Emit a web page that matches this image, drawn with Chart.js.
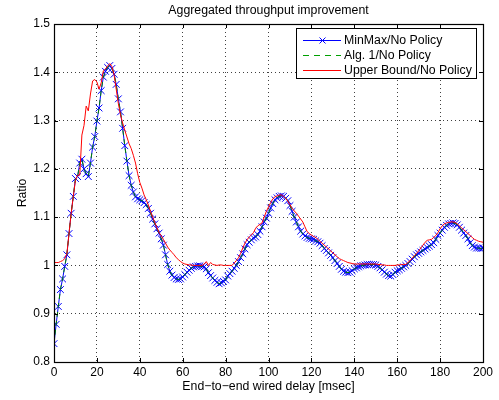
<!DOCTYPE html>
<html>
<head>
<meta charset="utf-8">
<script src="https://cdn.jsdelivr.net/npm/chart.js@4/dist/chart.umd.min.js"></script>
<style>
  html, body { margin: 0; padding: 0; background: #fff; }
  #wrap { width: 499px; height: 400px; }
</style>
</head>
<body>
<div id="wrap"><canvas id="c" width="499" height="400"></canvas></div>
<script>
const chartTitle = "Aggregated throughput improvement";
const xAxisTitle = "End\u2212to\u2212end wired delay [msec]";
const yAxisTitle = "Ratio";
const seriesNames = ["MinMax/No Policy", "Alg. 1/No Policy", "Upper Bound/No Policy"];
const xTicks = [0, 20, 40, 60, 80, 100, 120, 140, 160, 180, 200];
const yTicks = [0.8, 0.9, 1.0, 1.1, 1.2, 1.3, 1.4, 1.5];

// end-to-end wired delay [msec], 0..200 step 1
const delays = Array.from({ length: 201 }, (_, i) => i);

const minMaxRatio = [
  0.838, 0.878, 0.915, 0.950, 0.972, 0.998, 1.022, 1.066, 1.108, 1.143,
  1.180, 1.184, 1.212, 1.220, 1.200, 1.190, 1.184, 1.212, 1.245, 1.267,
  1.299, 1.326, 1.362, 1.390, 1.402, 1.410, 1.414, 1.408, 1.396, 1.375,
  1.345, 1.318, 1.284, 1.248, 1.216, 1.186, 1.166, 1.152, 1.142, 1.138,
  1.136, 1.134, 1.130, 1.126, 1.118, 1.108, 1.096, 1.086, 1.076, 1.067,
  1.055, 1.042, 1.022, 1.002, 0.988, 0.980, 0.975, 0.972, 0.971, 0.972,
  0.976, 0.981, 0.986, 0.990, 0.994, 0.997, 0.998, 0.999, 0.999, 0.998,
  0.997, 0.993, 0.985, 0.979, 0.974, 0.969, 0.965, 0.962, 0.964, 0.967,
  0.970, 0.978, 0.983, 0.988, 0.994, 1.000, 1.008, 1.016, 1.024, 1.034,
  1.043, 1.048, 1.053, 1.057, 1.059, 1.064, 1.071, 1.080, 1.090, 1.098,
  1.108, 1.119, 1.128, 1.136, 1.140, 1.143, 1.144, 1.143, 1.139, 1.134,
  1.124, 1.112, 1.100, 1.090, 1.080, 1.071, 1.065, 1.061, 1.058, 1.056,
  1.055, 1.054, 1.051, 1.049, 1.046, 1.041, 1.035, 1.031, 1.026, 1.021,
  1.016, 1.010, 1.004, 0.998, 0.992, 0.988, 0.986, 0.985, 0.986, 0.989,
  0.993, 0.995, 0.997, 0.999, 1.000, 1.001, 1.002, 1.002, 1.002, 1.002,
  1.001, 0.998, 0.995, 0.991, 0.986, 0.982, 0.979, 0.978, 0.981, 0.986,
  0.989, 0.991, 0.994, 0.997, 1.000, 1.004, 1.008, 1.013, 1.018, 1.022,
  1.025, 1.028, 1.031, 1.034, 1.037, 1.040, 1.043, 1.047, 1.054, 1.062,
  1.067, 1.073, 1.079, 1.083, 1.086, 1.087, 1.088, 1.087, 1.084, 1.079,
  1.073, 1.067, 1.062, 1.055, 1.047, 1.041, 1.038, 1.036, 1.036, 1.035,
  1.036
];

const alg1Ratio = [
  0.838, 0.878, 0.915, 0.950, 0.972, 0.998, 1.022, 1.066, 1.108, 1.143,
  1.180, 1.184, 1.212, 1.220, 1.200, 1.190, 1.184, 1.212, 1.245, 1.267,
  1.299, 1.326, 1.362, 1.390, 1.402, 1.410, 1.414, 1.408, 1.396, 1.375,
  1.345, 1.318, 1.284, 1.248, 1.216, 1.186, 1.166, 1.152, 1.142, 1.138,
  1.136, 1.134, 1.130, 1.126, 1.118, 1.108, 1.096, 1.086, 1.076, 1.067,
  1.055, 1.042, 1.022, 1.002, 0.988, 0.980, 0.975, 0.972, 0.971, 0.972,
  0.976, 0.981, 0.986, 0.990, 0.994, 0.997, 0.998, 0.999, 0.999, 0.998,
  0.997, 0.993, 0.985, 0.979, 0.974, 0.969, 0.965, 0.962, 0.964, 0.967,
  0.970, 0.978, 0.983, 0.988, 0.994, 1.000, 1.008, 1.016, 1.024, 1.034,
  1.043, 1.048, 1.053, 1.057, 1.059, 1.064, 1.071, 1.080, 1.090, 1.098,
  1.108, 1.119, 1.128, 1.136, 1.140, 1.143, 1.144, 1.143, 1.139, 1.134,
  1.124, 1.112, 1.100, 1.090, 1.080, 1.071, 1.065, 1.061, 1.058, 1.056,
  1.055, 1.054, 1.051, 1.049, 1.046, 1.041, 1.035, 1.031, 1.026, 1.021,
  1.016, 1.010, 1.004, 0.998, 0.992, 0.988, 0.986, 0.985, 0.986, 0.989,
  0.993, 0.995, 0.997, 0.999, 1.000, 1.001, 1.002, 1.002, 1.002, 1.002,
  1.001, 0.998, 0.995, 0.991, 0.986, 0.982, 0.979, 0.978, 0.981, 0.986,
  0.989, 0.991, 0.994, 0.997, 1.000, 1.004, 1.008, 1.013, 1.018, 1.022,
  1.025, 1.028, 1.031, 1.034, 1.037, 1.040, 1.043, 1.047, 1.054, 1.062,
  1.067, 1.073, 1.079, 1.083, 1.086, 1.087, 1.088, 1.087, 1.084, 1.079,
  1.073, 1.067, 1.062, 1.055, 1.047, 1.041, 1.038, 1.036, 1.036, 1.035,
  1.036
];

const upperBoundRatio = [
  1.006, 1.006, 1.006, 1.008, 1.010, 1.014, 1.024, 1.066, 1.108, 1.143,
  1.176, 1.187, 1.187, 1.270, 1.290, 1.330, 1.320, 1.355, 1.382, 1.385,
  1.380, 1.365, 1.378, 1.403, 1.407, 1.413, 1.418, 1.412, 1.395, 1.365,
  1.335, 1.312, 1.295, 1.280, 1.266, 1.252, 1.242, 1.228, 1.212, 1.190,
  1.172, 1.160, 1.146, 1.136, 1.125, 1.112, 1.100, 1.089, 1.078, 1.068,
  1.061, 1.054, 1.046, 1.038, 1.032, 1.027, 1.022, 1.016, 1.012, 1.008,
  1.005, 1.003, 1.002, 1.001, 1.001, 1.000, 1.000, 1.000, 1.000, 1.000,
  1.003, 1.008, 1.000, 1.006, 1.002, 1.001, 1.000, 1.001, 1.001, 1.000,
  1.000, 1.000, 1.000, 1.000, 1.005, 1.010, 1.016, 1.025, 1.036, 1.046,
  1.053, 1.059, 1.063, 1.068, 1.077, 1.082, 1.085, 1.088, 1.100, 1.112,
  1.121, 1.130, 1.138, 1.142, 1.144, 1.146, 1.146, 1.143, 1.139, 1.133,
  1.126, 1.118, 1.113, 1.108, 1.102, 1.096, 1.090, 1.080, 1.070, 1.066,
  1.063, 1.060, 1.058, 1.054, 1.050, 1.046, 1.042, 1.038, 1.034, 1.030,
  1.026, 1.022, 1.018, 1.014, 1.012, 1.010, 1.008, 1.006, 1.005, 1.004,
  1.003, 1.003, 1.003, 1.003, 1.003, 1.003, 1.003, 1.003, 1.003, 1.003,
  1.003, 1.002, 1.002, 1.001, 1.001, 1.000, 1.000, 1.000, 1.000, 1.000,
  1.001, 1.001, 1.002, 1.002, 1.002, 1.006, 1.010, 1.015, 1.020, 1.025,
  1.030, 1.036, 1.042, 1.048, 1.052, 1.053, 1.054, 1.058, 1.062, 1.068,
  1.076, 1.082, 1.086, 1.088, 1.089, 1.090, 1.090, 1.089, 1.086, 1.082,
  1.078, 1.074, 1.070, 1.066, 1.062, 1.058, 1.054, 1.052, 1.050, 1.049,
  1.048
];

const FONT = "'Liberation Sans', Arial, Helvetica, sans-serif";
const BLUE = "#0000ff", GREEN = "#008000", RED = "#ff0000";

const toXY = (ys) => delays.map((x, i) => ({ x: x, y: ys[i] }));

const framePlugin = {
  id: "frame",
  afterDraw(chart) {
    const { ctx, chartArea: a, scales } = chart;
    ctx.save();
    // inward ticks
    ctx.strokeStyle = "#000";
    ctx.lineWidth = 1;
    const tl = 4;
    ctx.beginPath();
    xTicks.forEach(v => {
      const px = Math.round(scales.x.getPixelForValue(v)) + 0.5;
      ctx.moveTo(px, a.bottom); ctx.lineTo(px, a.bottom - tl);
      ctx.moveTo(px, a.top); ctx.lineTo(px, a.top + tl);
    });
    yTicks.forEach(v => {
      const py = Math.round(scales.y.getPixelForValue(v)) + 0.5;
      ctx.moveTo(a.left, py); ctx.lineTo(a.left + tl, py);
      ctx.moveTo(a.right, py); ctx.lineTo(a.right - tl, py);
    });
    ctx.stroke();
    // box
    ctx.lineWidth = 1.2;
    ctx.strokeRect(Math.round(a.left) + 0.5, Math.round(a.top) + 0.5,
                   Math.round(a.right - a.left), Math.round(a.bottom - a.top));
    // title
    ctx.fillStyle = "#000";
    ctx.font = "12.3px " + FONT;
    ctx.textAlign = "center";
    ctx.textBaseline = "middle";
    ctx.fillText(chartTitle, (a.left + a.right) / 2, 11);
    // legend
    const lx = 296.5, ly = 28.5, lw = 180, lh = 50;
    ctx.fillStyle = "#fff";
    ctx.fillRect(lx, ly, lw, lh);
    ctx.lineWidth = 1;
    ctx.strokeStyle = "#000";
    ctx.strokeRect(lx, ly, lw, lh);
    const rows = [40, 55, 70];
    const styles = [
      { c: BLUE, dash: [], marker: true },
      { c: "#00a000", dash: [6, 5], marker: false },
      { c: RED, dash: [], marker: false }
    ];
    styles.forEach((s, i) => {
      const y = rows[i] + 0.5;
      ctx.strokeStyle = s.c;
      ctx.lineWidth = 1;
      ctx.setLineDash(s.dash);
      ctx.beginPath();
      ctx.moveTo(303, y); ctx.lineTo(341, y);
      ctx.stroke();
      ctx.setLineDash([]);
      if (s.marker) {
        ctx.beginPath();
        ctx.moveTo(319.5, y - 3); ctx.lineTo(325.5, y + 3);
        ctx.moveTo(319.5, y + 3); ctx.lineTo(325.5, y - 3);
        ctx.stroke();
      }
      ctx.fillStyle = "#000";
      ctx.font = "12.3px " + FONT;
      ctx.textAlign = "left";
      ctx.textBaseline = "middle";
      ctx.fillText(seriesNames[i], 344, rows[i] + 0.5);
    });
    ctx.restore();
  }
};

new Chart(document.getElementById("c"), {
  type: "line",
  data: {
    datasets: [
      {
        label: seriesNames[0],
        data: toXY(minMaxRatio),
        borderColor: BLUE,
        backgroundColor: BLUE,
        borderWidth: 1,
        pointStyle: "crossRot",
        pointRadius: 4.8,
        pointBorderWidth: 1,
        pointBorderColor: BLUE,
        tension: 0,
        order: 3
      },
      {
        label: seriesNames[1],
        data: toXY(alg1Ratio),
        borderColor: GREEN,
        borderWidth: 1,
        borderDash: [5, 4],
        pointRadius: 0,
        tension: 0,
        order: 2
      },
      {
        label: seriesNames[2],
        data: toXY(upperBoundRatio),
        borderColor: RED,
        borderWidth: 1,
        pointRadius: 0,
        tension: 0,
        order: 1
      }
    ]
  },
  options: {
    responsive: false,
    animation: false,
    events: [],
    layout: { padding: { top: 24, right: 16, left: 0, bottom: 0 } },
    plugins: {
      legend: { display: false },
      title: { display: false },
      tooltip: { enabled: false }
    },
    scales: {
      x: {
        type: "linear",
        min: 0,
        max: 200,
        afterFit(scale) { scale.height = 38; },
        afterBuildTicks(scale) { scale.ticks = xTicks.map(v => ({ value: v })); },
        ticks: {
          color: "#000",
          font: { family: FONT, size: 12 },
          padding: 3,
          maxRotation: 0,
          autoSkip: false
        },
        grid: { color: "rgba(0,0,0,0.75)", drawTicks: false, lineWidth: 1 },
        border: { display: true, color: "#000", dash: [1, 3] },
        title: {
          display: true,
          text: xAxisTitle,
          color: "#000",
          font: { family: FONT, size: 12.3 },
          padding: { top: 0, bottom: 6 }
        }
      },
      y: {
        type: "linear",
        min: 0.8,
        max: 1.5,
        afterFit(scale) { scale.width = 54; },
        afterBuildTicks(scale) { scale.ticks = yTicks.map(v => ({ value: v })); },
        ticks: {
          color: "#000",
          font: { family: FONT, size: 12 },
          padding: 4,
          autoSkip: false,
          callback: (v) => String(Math.round(v * 10) / 10)
        },
        grid: { color: "rgba(0,0,0,0.75)", drawTicks: false, lineWidth: 1 },
        border: { display: true, color: "#000", dash: [1, 3] },
        title: {
          display: true,
          text: yAxisTitle,
          color: "#000",
          font: { family: FONT, size: 12.3 },
          padding: { top: 15, bottom: 0 }
        }
      }
    }
  },
  plugins: [framePlugin]
});
</script>
</body>
</html>
